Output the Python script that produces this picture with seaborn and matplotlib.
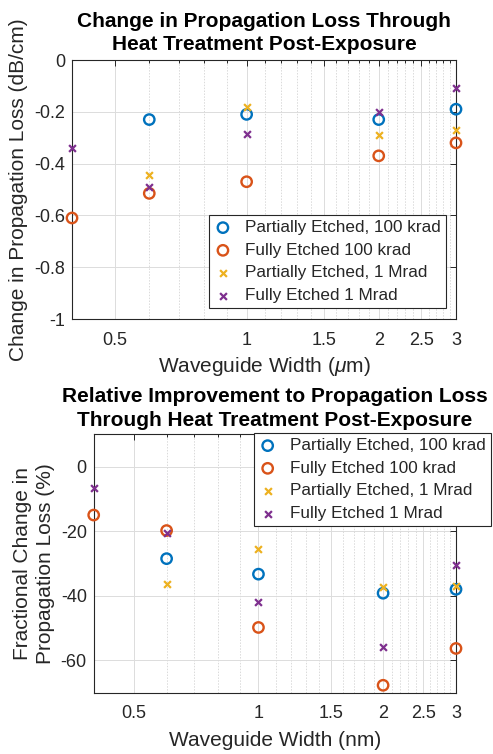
import numpy as np
import pandas as pd
import matplotlib
matplotlib.use("Agg")
import matplotlib.pyplot as plt
import seaborn as sns
from matplotlib.ticker import FixedLocator, FixedFormatter, NullFormatter

sns.set_theme(style="white")
plt.rcParams['font.family'] = ['Liberation Sans', 'DejaVu Sans']
plt.rcParams['mathtext.fontset'] = 'custom'
plt.rcParams['mathtext.it'] = 'Liberation Sans:italic'
plt.rcParams['mathtext.rm'] = 'Liberation Sans'

# ---------------- data ----------------
series_names = ["Partially Etched, 100 krad", "Fully Etched 100 krad",
                "Partially Etched, 1 Mrad", "Fully Etched 1 Mrad"]
series_colors = ["#0072BD", "#D95319", "#EDB120", "#7E2F8E"]
series_markers = ["o", "o", "x", "x"]

widths_top = {
    "Partially Etched, 100 krad": [0.6, 1, 2, 3],
    "Fully Etched 100 krad": [0.4, 0.6, 1, 2, 3],
    "Partially Etched, 1 Mrad": [0.6, 1, 2, 3],
    "Fully Etched 1 Mrad": [0.4, 0.6, 1, 2, 3],
}
loss_change = {
    "Partially Etched, 100 krad": [-0.23, -0.21, -0.23, -0.19],
    "Fully Etched 100 krad": [-0.61, -0.515, -0.47, -0.37, -0.32],
    "Partially Etched, 1 Mrad": [-0.445, -0.18, -0.29, -0.27],
    "Fully Etched 1 Mrad": [-0.34, -0.49, -0.285, -0.20, -0.11],
}

widths_bot = {
    "Partially Etched, 100 krad": [0.6, 1, 2, 3],
    "Fully Etched 100 krad": [0.4, 0.6, 1, 2, 3],
    "Partially Etched, 1 Mrad": [0.6, 1, 2, 3],
    "Fully Etched 1 Mrad": [0.4, 0.6, 1, 2, 3],
}
fractional_change = {
    "Partially Etched, 100 krad": [-28.5, -33.3, -39.2, -38.0],
    "Fully Etched 100 krad": [-15.0, -19.8, -49.8, -67.7, -56.3],
    "Partially Etched, 1 Mrad": [-36.5, -25.5, -37.2, -37.0],
    "Fully Etched 1 Mrad": [-6.7, -20.7, -42.0, -56.0, -30.6],
}

x_major_ticks = [0.5, 1, 1.5, 2, 2.5, 3]
x_tick_labels = ["0.5", "1", "1.5", "2", "2.5", "3"]
x_minor_ticks = [0.4, 0.6, 0.7, 0.8, 0.9, 1.1, 1.2, 1.3, 1.4, 1.6, 1.7, 1.8,
                 1.9, 2.1, 2.2, 2.3, 2.4, 2.6, 2.7, 2.8, 2.9]
y_top_ticks = [-1, -0.8, -0.6, -0.4, -0.2, 0]
y_top_labels = ["-1", "-0.8", "-0.6", "-0.4", "-0.2", "0"]
y_bot_ticks = [-60, -40, -20, 0]
y_bot_labels = ["-60", "-40", "-20", "0"]

DARK = "#262626"
fig = plt.figure(figsize=(4.93, 7.54), dpi=100, facecolor="white")
ax1 = fig.add_axes([72/493, 1-319/754, (456-72)/493, (319-60)/754])
ax2 = fig.add_axes([93.7/493, 1-692.7/754, (456-93.7)/493, (692.7-434.3)/754])


def draw(ax, xs, ys):
    for name, col, mk in zip(series_names, series_colors, series_markers):
        df = pd.DataFrame({"x": xs[name], "y": ys[name]})
        if mk == "o":
            sns.scatterplot(data=df, x="x", y="y", ax=ax, marker="o", s=56,
                            facecolors="none", edgecolors=col, linewidths=1.7,
                            label=name, zorder=3, clip_on=False)
        else:
            sns.scatterplot(data=df, x="x", y="y", ax=ax, marker="x", s=24,
                            color=col, linewidths=1.6, label=name, zorder=3,
                            clip_on=False)


def style(ax):
    ax.set_xscale("log")
    ax.set_xlim(0.4, 3)
    ax.xaxis.set_major_locator(FixedLocator(x_major_ticks))
    ax.xaxis.set_major_formatter(FixedFormatter(x_tick_labels))
    ax.xaxis.set_minor_locator(FixedLocator(x_minor_ticks))
    ax.xaxis.set_minor_formatter(NullFormatter())
    ax.grid(True, which="major", color="#dcdcdc", linewidth=0.7, linestyle="-")
    ax.grid(True, which="minor", axis="x", color="#dadada", linewidth=0.7,
            linestyle=(0, (1.5, 1.5)))
    ax.set_axisbelow(True)
    for sp in ax.spines.values():
        sp.set_color(DARK)
        sp.set_linewidth(0.8)
    ax.tick_params(axis="both", which="both", direction="in", top=True,
                   right=True, colors=DARK, labelcolor=DARK, labelsize=13,
                   width=0.7)
    ax.tick_params(which="major", length=4)
    ax.tick_params(which="minor", length=2.5)
    ax.tick_params(axis="x", pad=9)
    ax.tick_params(axis="y", pad=5)
    ax.set_facecolor("white")


draw(ax1, widths_top, loss_change)
style(ax1)
ax1.set_ylim(-1, 0)
ax1.yaxis.set_major_locator(FixedLocator(y_top_ticks))
ax1.yaxis.set_major_formatter(FixedFormatter(y_top_labels))
ax1.set_xlabel(r"Waveguide Width ($\mu$m)", fontsize=15, color=DARK, labelpad=5)
ax1.set_ylabel("Change in Propagation Loss (dB/cm)", fontsize=15, color=DARK,
               labelpad=4)
ax1.set_title("Change in Propagation Loss Through\nHeat Treatment Post-Exposure",
              fontsize=15, fontweight="bold", color="black", pad=7,
              linespacing=1.3)

draw(ax2, widths_bot, fractional_change)
style(ax2)
ax2.set_ylim(-70, 10)
ax2.yaxis.set_major_locator(FixedLocator(y_bot_ticks))
ax2.yaxis.set_major_formatter(FixedFormatter(y_bot_labels))
ax2.set_xlabel("Waveguide Width (nm)", fontsize=15, color=DARK, labelpad=6)
ax2.set_ylabel("Fractional Change in\nPropagation Loss (%)", fontsize=15,
               color=DARK, labelpad=4, linespacing=1.25)
ax2.set_title("Relative Improvement to Propagation Loss\nThrough Heat Treatment Post-Exposure",
              fontsize=15, fontweight="bold", color="black", pad=6,
              linespacing=1.3)

leg_kw = dict(fontsize=12.3, frameon=True, fancybox=False, framealpha=1,
              edgecolor=DARK, handlelength=1.0, handletextpad=0.8,
              labelspacing=0.45, borderpad=0.3, borderaxespad=0,
              bbox_transform=fig.transFigure)
l1 = ax1.legend(loc="upper right", bbox_to_anchor=(446/493, 1-215/754), **leg_kw)
l2 = ax2.legend(loc="upper left", bbox_to_anchor=(254/493, 1-433/754), **leg_kw)
for lg in (l1, l2):
    lg.get_frame().set_linewidth(0.8)
    for t in lg.get_texts():
        t.set_color(DARK)

fig.savefig("out.png", dpi=100, facecolor="white")
